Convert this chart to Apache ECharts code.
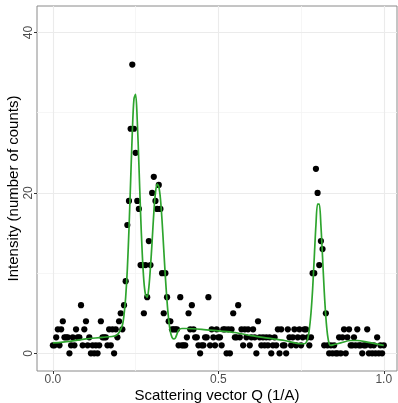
<!DOCTYPE html>
<html><head><meta charset="utf-8">
<script src="https://cdn.jsdelivr.net/npm/echarts@6/dist/echarts.min.js"></script>
<style>html,body{margin:0;padding:0;background:#fff}#c{width:398px;height:403px}</style>
</head><body><div id="c"></div>
<script>
// Scattering vector Q (1/A)
const q = [
0,0.005,0.01,0.015,0.02,0.025,0.03,0.035,0.04,0.045,
0.05,0.055,0.06,0.065,0.07,0.075,0.08,0.085,0.09,0.095,
0.1,0.105,0.11,0.115,0.12,0.125,0.13,0.135,0.14,0.145,
0.15,0.155,0.16,0.165,0.17,0.175,0.18,0.185,0.19,0.195,
0.2,0.205,0.21,0.215,0.22,0.225,0.23,0.235,0.24,0.245,
0.25,0.255,0.26,0.265,0.27,0.275,0.28,0.285,0.29,0.295,
0.3,0.305,0.31,0.315,0.32,0.325,0.33,0.335,0.34,0.345,
0.35,0.355,0.36,0.365,0.37,0.375,0.38,0.385,0.39,0.395,
0.4,0.405,0.41,0.415,0.42,0.425,0.43,0.435,0.44,0.445,
0.45,0.455,0.46,0.465,0.47,0.475,0.48,0.485,0.49,0.495,
0.5,0.505,0.51,0.515,0.52,0.525,0.53,0.535,0.54,0.545,
0.55,0.555,0.56,0.565,0.57,0.575,0.58,0.585,0.59,0.595,
0.6,0.605,0.61,0.615,0.62,0.625,0.63,0.635,0.64,0.645,
0.65,0.655,0.66,0.665,0.67,0.675,0.68,0.685,0.69,0.695,
0.7,0.705,0.71,0.715,0.72,0.725,0.73,0.735,0.74,0.745,
0.75,0.755,0.76,0.765,0.77,0.775,0.78,0.785,0.79,0.795,
0.8,0.805,0.81,0.815,0.82,0.825,0.83,0.835,0.84,0.845,
0.85,0.855,0.86,0.865,0.87,0.875,0.88,0.885,0.89,0.895,
0.9,0.905,0.91,0.915,0.92,0.925,0.93,0.935,0.94,0.945,
0.95,0.955,0.96,0.965,0.97,0.975,0.98,0.985,0.99,0.995,1.0];

// Intensity (number of counts)
const counts = [
1,1,2,3,1,3,4,2,2,2,
0,1,2,1,3,2,2,6,1,3,
4,1,2,0,1,0,1,0,1,4,
2,2,2,1,3,1,3,0,3,2,
4,5,3,6,9,16,19,28,36,28,
25,19,18,11,11,5,11,7,14,11,
20,22,19,18,21,18,10,5,10,7,
4,4,3,3,3,3,1,7,1,1,
1,2,5,3,6,3,2,2,1,0,
1,1,2,2,7,1,3,2,1,3,
2,2,1,3,3,0,3,0,3,5,
2,2,6,2,3,1,3,2,3,1,
2,3,2,0,4,2,1,2,1,2,
1,2,0,1,2,1,3,0,3,1,
1,0,3,2,1,2,3,1,2,3,
1,2,3,3,2,1,2,10,10,23,
20,11,14,13,1,5,1,0,1,0,
1,0,0,2,0,2,3,0,2,3,
1,1,2,1,3,1,1,0,1,1,
3,0,1,0,1,0,2,0,1,0,1];

// fitted curve
const fitQ = [0,0.05,0.1,0.15,0.19,0.2,0.21,0.215,0.22,0.225,0.23,0.235,0.24,0.245,0.25,0.255,0.26,0.265,0.27,0.275,0.28,0.285,0.29,0.295,0.3,0.305,0.31,0.315,0.32,0.325,0.33,0.335,0.34,0.345,0.35,0.355,0.36,0.365,0.37,0.375,0.38,0.39,0.4,0.45,0.5,0.55,0.6,0.65,0.7,0.75,0.76,0.77,0.775,0.78,0.785,0.79,0.795,0.8,0.805,0.81,0.815,0.82,0.825,0.83,0.835,0.84,0.85,0.87,0.9,0.92,0.95,1.0];
const fitI = [1.3,1.5,1.8,2.0,2.2,2.6,3.5,4.8,7.0,10.5,15.5,21.5,27.5,31.7,32.3,29.0,23.5,17.5,12.5,9.0,7.3,7.0,8.2,10.8,14.0,17.5,20.0,21.1,20.8,19.3,16.5,13.0,9.5,6.5,4.2,2.7,2.0,1.8,1.9,2.4,2.9,3.1,3.1,3.0,2.8,2.6,2.2,1.9,1.6,1.2,1.2,1.8,3.0,5.0,8.0,12.0,16.0,18.6,18.6,16.0,12.0,7.8,4.5,2.3,1.2,1.0,1.1,1.3,1.6,1.6,1.4,1.0];

const xTicks = [0, 0.5, 1];
const yTicks = [0, 20, 40];
const xMinor = [0.25, 0.75];
const yMinor = [10, 30];

const FONT = 'Liberation Sans, Arial, sans-serif';
const chart = echarts.init(document.getElementById('c'), null, {renderer: 'canvas'});
const gridLines = [];
xMinor.forEach(v => gridLines.push({xAxis: v, lineStyle: {color: '#F4F4F4', width: 0.8, type: 'solid'}}));
yMinor.forEach(v => gridLines.push({yAxis: v, lineStyle: {color: '#F4F4F4', width: 0.8, type: 'solid'}}));
xTicks.forEach(v => gridLines.push({xAxis: v, lineStyle: {color: '#EBEBEB', width: 1.1, type: 'solid'}}));
yTicks.forEach(v => gridLines.push({yAxis: v, lineStyle: {color: '#EBEBEB', width: 1.1, type: 'solid'}}));

chart.setOption({
  animation: false,
  backgroundColor: '#fff',
  grid: {left: 37, right: 1, top: 6, bottom: 32, show: true, borderColor: '#8a8a8a', borderWidth: 1,
         backgroundColor: 'transparent', containLabel: false, outerBoundsMode: 'none'},
  xAxis: {
    type: 'value', min: -0.048, max: 1.04,
    splitLine: {show: false},
    axisLine: {show: false, onZero: false},
    axisTick: {show: true, customValues: xTicks, length: 3, lineStyle: {color: '#333'}},
    axisLabel: {customValues: xTicks, formatter: v => v.toFixed(1), color: '#4D4D4D', fontSize: 12, margin: 3, fontFamily: FONT},
    name: 'Scattering vector Q (1/A)', nameLocation: 'middle', nameGap: 17, nameMoveOverlap: false,
    nameTextStyle: {fontSize: 15, color: '#000', fontFamily: FONT}
  },
  yAxis: {
    type: 'value', min: -2.2, max: 43.3,
    splitLine: {show: false},
    axisLine: {show: false, onZero: false},
    axisTick: {show: true, customValues: yTicks, length: 3, lineStyle: {color: '#333'}},
    axisLabel: {customValues: yTicks, rotate: 90, color: '#4D4D4D', fontSize: 12, margin: 2, fontFamily: FONT},
    name: 'Intensity (number of counts)', nameLocation: 'middle', nameGap: 16, nameMoveOverlap: false,
    nameTextStyle: {fontSize: 15, color: '#000', fontFamily: FONT}
  },
  series: [
    {type: 'line', data: [], zlevel: 0, z: 0, silent: true,
     markLine: {silent: true, symbol: ['none', 'none'], label: {show: false}, animation: false, data: gridLines}},
    {type: 'scatter', data: q.map((x, i) => [x, counts[i]]), symbolSize: 6.2,
     itemStyle: {color: '#000', opacity: 1}, zlevel: 1, z: 2, silent: true},
    {type: 'line', data: fitQ.map((x, i) => [x, fitI[i]]), showSymbol: false, smooth: 0.3,
     lineStyle: {color: '#2EA52E', width: 1.7}, zlevel: 1, z: 3, silent: true}
  ]
});
</script>
</body></html>
